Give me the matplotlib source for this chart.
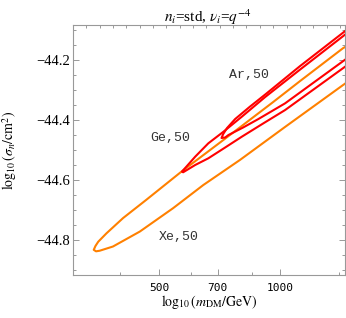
import numpy as np
import matplotlib
matplotlib.use("Agg")
import matplotlib.pyplot as plt
from matplotlib.ticker import FixedLocator, NullFormatter, NullLocator

plt.rcParams['mathtext.fontset'] = 'stix'
plt.rcParams['font.family'] = ['Liberation Serif', 'DejaVu Serif']

# ---- data (m in GeV, log10 sigma in cm^2) ----
xe_m = [1493, 1435, 1121, 961, 722, 571, 464, 407, 370, 353, 347.5, 344,
        348.6, 356, 384, 448, 542, 644, 795, 1029, 1435, 1493]
xe_s = [-44.147, -44.160, -44.270, -44.340, -44.467, -44.570, -44.667, -44.727,
        -44.778, -44.806, -44.820, -44.833, -44.838, -44.836, -44.822, -44.772,
        -44.694, -44.617, -44.533, -44.423, -44.283, -44.267]

ge_m = [1493, 1435, 1121, 918, 803, 723, 663, 615, 570,
        574, 615, 663, 730, 803, 907, 1029, 1435, 1493]
ge_s = [-44.1017, -44.120, -44.2317, -44.3233, -44.389, -44.439, -44.4777, -44.5223, -44.5723,
        -44.5743, -44.550, -44.5277, -44.4917, -44.4557, -44.4117, -44.3667, -44.2267, -44.210]

ar_m = [1493, 1435, 1121, 918, 842, 773, 738, 722, 715,
        730, 744, 809, 883, 1029, 1435, 1493]
ar_s = [-44.090, -44.1083, -44.220, -44.315, -44.355, -44.3967, -44.4267, -44.4467, -44.460,
        -44.4583, -44.450, -44.425, -44.3967, -44.3443, -44.2033, -44.1867]

labels = ["Ar,50", "Ge,50", "Xe,50"]
label_m = [838, 532, 561]
label_s = [-44.25, -44.46, -44.79]

xticks_major = [500, 700, 1000]
xticks_minor = [400, 600, 850, 1400]
yticks_major = [-44.8, -44.6, -44.4, -44.2]
xlim = (305.5, 1450)
ylim = (-44.917, -44.083)

ORANGE = '#FF8000'
RED = '#FF0000'
FRAME = '#999999'

fig = plt.figure(figsize=(3.46, 3.18), dpi=100)
ax = fig.add_axes([73/346, 43/318, 272/346, 250/318])
ax.set_xscale('log')

ax.plot(xe_m, xe_s, color=ORANGE, lw=1.5, solid_joinstyle='round', zorder=2)
ax.plot(ge_m, ge_s, color=RED, lw=1.5, solid_joinstyle='round', zorder=3)
ax.plot(ar_m, ar_s, color=RED, lw=1.5, solid_joinstyle='round', zorder=3)

for t, mx, sy in zip(labels, label_m, label_s):
    ax.text(mx, sy, t, family='Liberation Mono', fontsize=9.5, color='#333333',
            ha='center', va='center')

ax.set_xlim(*xlim)
ax.set_ylim(*ylim)

ax.xaxis.set_major_locator(FixedLocator(xticks_major))
ax.xaxis.set_minor_locator(FixedLocator(xticks_minor))
ax.set_xticklabels([str(v) for v in xticks_major], family='DejaVu Sans Mono', fontsize=8)
ax.xaxis.set_minor_formatter(NullFormatter())
ax.yaxis.set_major_locator(FixedLocator(yticks_major))
ax.yaxis.set_minor_locator(FixedLocator(np.arange(-44.9, -44.09, 0.05)))
ax.set_yticklabels(['\u221244.8', '\u221244.6', '\u221244.4', '\u221244.2'], fontsize=10.5)

for sp in ax.spines.values():
    sp.set_color(FRAME)
    sp.set_linewidth(0.8)

ax.tick_params(which='both', direction='in', color=FRAME, width=0.7,
               left=True, right=True, top=False, bottom=True)
ax.tick_params(which='major', length=4.5)
ax.tick_params(which='minor', length=2.5)
ax.tick_params(axis='x', which='major', pad=6)
ax.tick_params(axis='y', which='major', pad=2.5)

# top ticks (unlabeled)
ax2 = ax.twiny()
ax2.set_xscale('log')
ax2.set_xlim(*xlim)
top_log = np.arange(2.518, 3.17, 0.0332)
ax2.xaxis.set_major_locator(FixedLocator(10 ** top_log))
ax2.xaxis.set_minor_locator(NullLocator())
ax2.xaxis.set_major_formatter(NullFormatter())
ax2.tick_params(which='both', direction='in', color=FRAME, width=0.7, length=2.5)
for sp in ax2.spines.values():
    sp.set_visible(False)

ax.set_xlabel(r'$\log_{10}(m_{\mathrm{DM}}/\mathrm{GeV})$', fontsize=10)
ax.xaxis.set_label_coords(0.5, -0.072)
ax.set_ylabel(r'$\log_{10}(\sigma_n/\mathrm{cm}^2)$', fontsize=10)
ax.yaxis.set_label_coords(-0.2, 0.5)

fig.text(208/346, 1 - 17/318, r'$n_i$=std, $\nu_i$=$q^{-4}$', ha='center', va='center',
         fontsize=11)

fig.savefig('out.png', dpi=100)
